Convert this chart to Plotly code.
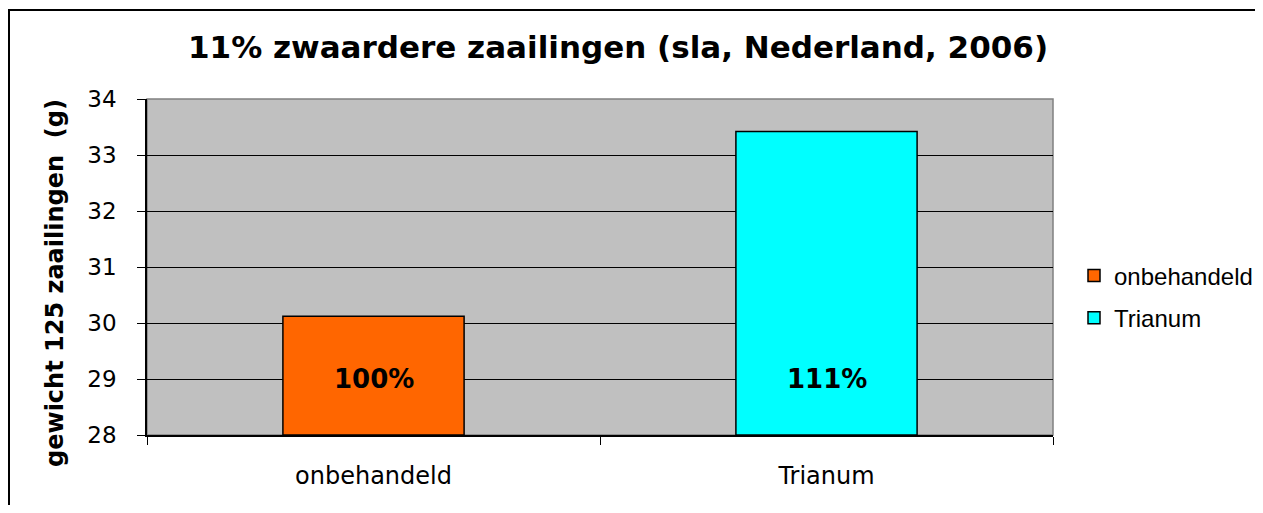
import plotly.graph_objects as go

categories = ["onbehandeld", "Trianum"]
values = [30.12, 33.42]
pct_labels = ["100%", "111%"]
colors = ["#FF6600", "#00FFFF"]
y_ticks = [28, 29, 30, 31, 32, 33, 34]
y_min = 28

# page has an 8px body margin; figure is sized so the page does not overflow
OFF = 8
W, H = 1263 - 2 * OFF, 513 - 2 * OFF
L, T = 147 - OFF, 99 - OFF
R = (W + OFF) - 1053
B = (H + OFF) - 435
pw, ph = W - L - R, H - T - B


def px(xs):  # screen x -> paper
    return (xs - OFF - L) / pw


def py(ys):  # screen y -> paper
    return (H - B - (ys - OFF)) / ph


fig = go.Figure()
for c, v, col in zip(categories, values, colors):
    fig.add_trace(go.Bar(
        x=[c], y=[v - y_min], base=y_min, name=c, width=0.4, legendgroup=c,
        marker=dict(color=col, line=dict(color="black", width=1.5)),
    ))

for c, t in zip(categories, pct_labels):
    fig.add_annotation(x=c, y=29, text="<b>" + t + "</b>", showarrow=False,
                       xanchor="center", yanchor="middle",
                       font=dict(family="DejaVu Sans", size=26, color="black"))

# outer border (right/bottom fall outside the picture)
fig.add_shape(type="rect", xref="paper", yref="paper",
              x0=px(9), x1=px(1280), y0=py(10), y1=py(530),
              line=dict(color="black", width=2), layer="below")
# plot area border (grey top/right)
fig.add_shape(type="rect", xref="paper", yref="paper",
              x0=0, x1=1, y0=0, y1=1,
              line=dict(color="#808080", width=1.5), layer="below")

fig.add_annotation(xref="paper", yref="paper", x=px(55), y=py(283),
                   xanchor="center", yanchor="middle",
                   text="<b>gewicht 125 zaailingen  (g)</b>", textangle=-90,
                   showarrow=False,
                   font=dict(family="DejaVu Sans", size=24, color="black"))

fig.add_annotation(xref="paper", yref="paper", x=px(618), y=py(47),
                   xanchor="center", yanchor="middle",
                   text="<b>11% zwaardere zaailingen (sla, Nederland, 2006)</b>",
                   showarrow=False,
                   font=dict(family="DejaVu Sans", size=31, color="black"))

fig.update_layout(
    width=W, height=H,
    margin=dict(l=L, r=R, t=T, b=B, pad=0, autoexpand=False),
    paper_bgcolor="white",
    plot_bgcolor="#C0C0C0",
    barmode="overlay",
    legend=dict(x=px(1074), xanchor="left", y=py(297), yanchor="middle",
                font=dict(family="Liberation Sans", size=24, color="black"),
                bgcolor="rgba(0,0,0,0)", tracegroupgap=8, itemwidth=30),
    showlegend=True,
)
fig.update_xaxes(
    type="category", range=[-0.5, 1.5],
    showline=True, linecolor="black", linewidth=1.5,
    ticks="outside", tickson="boundaries", ticklen=8, tickcolor="black",
    ticklabelstandoff=18,
    tickfont=dict(family="DejaVu Sans", size=24, color="black"),
    showgrid=False,
)
fig.update_yaxes(
    range=[28, 34], tickvals=y_ticks,
    showline=True, linecolor="black", linewidth=1.5,
    ticks="outside", ticklen=8, tickcolor="black",
    ticklabelstandoff=16,
    tickfont=dict(family="DejaVu Sans", size=23, color="black"),
    showgrid=True, gridcolor="black", gridwidth=1.2,
    zeroline=False,
)

fig.write_html("out.html")
